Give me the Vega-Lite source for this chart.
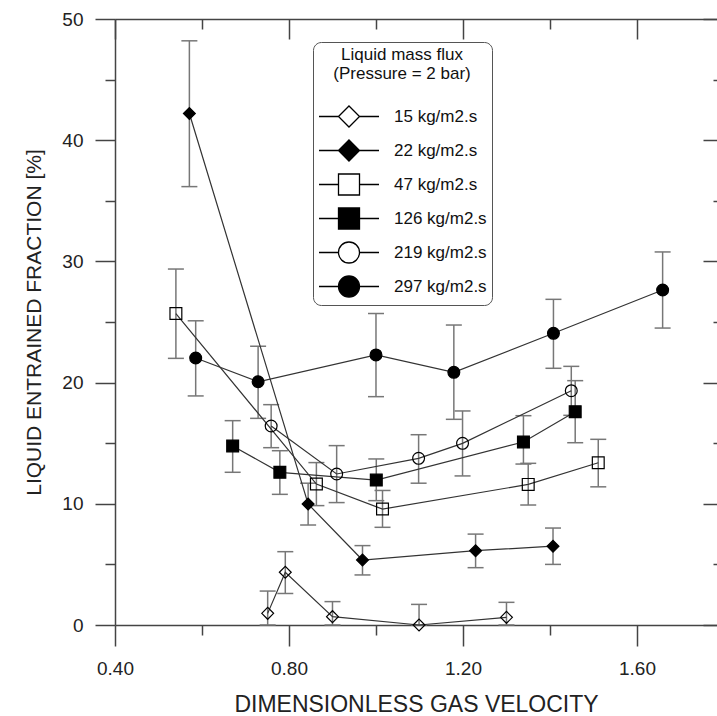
{
  "$schema": "https://vega.github.io/schema/vega-lite/v6.json",
  "autosize": {"type": "none"},
  "padding": {"left": 115, "top": 19, "right": 0, "bottom": 91},
  "width": 602,
  "height": 606,
  "background": "white",
  "config": {"view": {"stroke": null}},
  "data": {
    "values": [
      {"series": "15 kg/m2.s", "x": 0.751, "y": 0.96, "lo": 0.0, "hi": 2.8},
      {"series": "15 kg/m2.s", "x": 0.7915, "y": 4.35, "lo": 2.6, "hi": 6.05},
      {"series": "15 kg/m2.s", "x": 0.9, "y": 0.69, "lo": 0.0, "hi": 1.93},
      {"series": "15 kg/m2.s", "x": 1.099, "y": 0.0, "lo": 0.0, "hi": 1.7},
      {"series": "15 kg/m2.s", "x": 1.3, "y": 0.63, "lo": 0.0, "hi": 1.87},
      {"series": "22 kg/m2.s", "x": 0.571, "y": 42.2, "lo": 36.17, "hi": 48.2},
      {"series": "22 kg/m2.s", "x": 0.844, "y": 9.98, "lo": 8.25, "hi": 11.7},
      {"series": "22 kg/m2.s", "x": 0.969, "y": 5.36, "lo": 4.13, "hi": 6.55},
      {"series": "22 kg/m2.s", "x": 1.229, "y": 6.13, "lo": 4.73, "hi": 7.5},
      {"series": "22 kg/m2.s", "x": 1.407, "y": 6.5, "lo": 5.0, "hi": 8.0},
      {"series": "47 kg/m2.s", "x": 0.54, "y": 25.7, "lo": 22.0, "hi": 29.37},
      {"series": "47 kg/m2.s", "x": 0.863, "y": 11.63, "lo": 9.85, "hi": 13.4},
      {"series": "47 kg/m2.s", "x": 1.015, "y": 9.57, "lo": 8.06, "hi": 11.1},
      {"series": "47 kg/m2.s", "x": 1.35, "y": 11.6, "lo": 9.9, "hi": 13.34},
      {"series": "47 kg/m2.s", "x": 1.511, "y": 13.39, "lo": 11.4, "hi": 15.32},
      {"series": "126 kg/m2.s", "x": 0.6705, "y": 14.77, "lo": 12.6, "hi": 16.86},
      {"series": "126 kg/m2.s", "x": 0.779, "y": 12.6, "lo": 10.78, "hi": 14.38},
      {"series": "126 kg/m2.s", "x": 1.0007, "y": 11.96, "lo": 10.26, "hi": 13.7},
      {"series": "126 kg/m2.s", "x": 1.339, "y": 15.1, "lo": 13.28, "hi": 17.27},
      {"series": "126 kg/m2.s", "x": 1.458, "y": 17.6, "lo": 15.04, "hi": 20.16},
      {"series": "219 kg/m2.s", "x": 0.759, "y": 16.42, "lo": 14.63, "hi": 18.18},
      {"series": "219 kg/m2.s", "x": 0.9096, "y": 12.46, "lo": 10.1, "hi": 14.8},
      {"series": "219 kg/m2.s", "x": 1.098, "y": 13.75, "lo": 11.7, "hi": 15.7},
      {"series": "219 kg/m2.s", "x": 1.199, "y": 14.99, "lo": 12.3, "hi": 17.66},
      {"series": "219 kg/m2.s", "x": 1.449, "y": 19.33, "lo": 17.3, "hi": 21.34},
      {"series": "297 kg/m2.s", "x": 0.5855, "y": 22.03, "lo": 18.9, "hi": 25.1},
      {"series": "297 kg/m2.s", "x": 0.729, "y": 20.07, "lo": 17.05, "hi": 23.0},
      {"series": "297 kg/m2.s", "x": 1.0, "y": 22.28, "lo": 18.84, "hi": 25.7},
      {"series": "297 kg/m2.s", "x": 1.179, "y": 20.85, "lo": 16.97, "hi": 24.75},
      {"series": "297 kg/m2.s", "x": 1.408, "y": 24.07, "lo": 21.18, "hi": 26.87},
      {"series": "297 kg/m2.s", "x": 1.659, "y": 27.64, "lo": 24.5, "hi": 30.78}
    ]
  },
  "resolve": {
    "scale": {"shape": "independent", "fill": "independent", "stroke": "independent"},
    "axis": {"x": "independent", "y": "independent"},
    "legend": {"shape": "independent", "fill": "independent", "stroke": "independent"}
  },
  "layer": [
    {
      "mark": {"type": "rule", "color": "#777777", "strokeWidth": 1.5},
      "encoding": {
        "x": {
          "field": "x", "type": "quantitative",
          "scale": {"domain": [0.4, 1.784], "nice": false, "zero": false},
          "axis": {
            "orient": "bottom",
            "values": [0.4, 0.6, 0.8, 1.0, 1.2, 1.4, 1.6],
            "labelExpr": "round(datum.value*10) % 4 == 0 ? format(datum.value, '.2f') : ''",
            "tickSize": {"condition": {"test": "round(datum.value*10) % 4 == 0", "value": 21}, "value": 10},
            "tickColor": "#444444", "tickWidth": 1.5,
            "domainColor": "#444444", "domainWidth": 1.5,
            "grid": false,
            "labelFont": "Liberation Sans", "labelFontSize": 19, "labelColor": "#222222", "labelPadding": 13,
            "labelFlush": false, "labelOverlap": false,
            "title": "DIMENSIONLESS GAS VELOCITY",
            "titleFont": "Liberation Sans", "titleFontSize": 23, "titleFontWeight": "normal", "titleColor": "#222222", "titlePadding": 15
          }
        },
        "y": {
          "field": "lo", "type": "quantitative",
          "scale": {"domain": [0, 50], "nice": false, "zero": false},
          "axis": {
            "orient": "left",
            "values": [0, 5, 10, 15, 20, 25, 30, 35, 40, 45, 50],
            "labelExpr": "datum.value % 10 == 0 ? datum.label : ''",
            "tickSize": {"condition": {"test": "datum.value % 10 == 0", "value": 20}, "value": 10},
            "tickColor": "#444444", "tickWidth": 1.5,
            "domainColor": "#444444", "domainWidth": 1.5,
            "grid": false,
            "labelFont": "Liberation Sans", "labelFontSize": 19, "labelColor": "#222222", "labelPadding": 12,
            "labelFlush": false, "labelOverlap": false,
            "title": "LIQUID ENTRAINED FRACTION [%]",
            "titleFont": "Liberation Sans", "titleFontSize": 21, "titleFontWeight": "normal", "titleColor": "#222222", "titlePadding": 17
          }
        },
        "y2": {"field": "hi"}
      }
    },
    {
      "mark": {"type": "tick", "orient": "horizontal", "size": 16, "thickness": 1.5, "color": "#777777", "opacity": 1},
      "encoding": {
        "x": {"field": "x", "type": "quantitative", "axis": null},
        "y": {"field": "lo", "type": "quantitative", "axis": null}
      }
    },
    {
      "mark": {"type": "tick", "orient": "horizontal", "size": 16, "thickness": 1.5, "color": "#777777", "opacity": 1},
      "encoding": {
        "x": {"field": "x", "type": "quantitative", "axis": null},
        "y": {"field": "hi", "type": "quantitative", "axis": null}
      }
    },
    {
      "mark": {"type": "line", "color": "#333333", "strokeWidth": 1.2},
      "encoding": {
        "x": {
          "field": "x", "type": "quantitative",
          "axis": {
            "orient": "top",
            "values": [0.4, 0.6, 0.8, 1.0, 1.2, 1.4, 1.6],
            "labels": false,
            "tickSize": {"condition": {"test": "round(datum.value*10) % 4 == 0", "value": -20}, "value": -10},
            "tickColor": "#444444", "tickWidth": 1.5,
            "domainColor": "#444444", "domainWidth": 1.5,
            "grid": false, "title": null
          }
        },
        "y": {
          "field": "y", "type": "quantitative",
          "axis": {
            "orient": "right",
            "values": [0, 5, 10, 15, 20, 25, 30, 35, 40, 45, 50],
            "labels": false,
            "tickSize": {"condition": {"test": "datum.value % 10 == 0", "value": -14}, "value": -4},
            "tickColor": "#444444", "tickWidth": 1.5,
            "domain": false,
            "grid": false, "title": null
          }
        },
        "detail": {"field": "series", "type": "nominal"},
        "order": {"field": "x", "type": "quantitative"}
      }
    },
    {
      "mark": {"type": "point", "stroke": "black", "strokeWidth": 1.2, "size": 140, "opacity": 1},
      "encoding": {
        "x": {"field": "x", "type": "quantitative", "axis": null},
        "y": {"field": "y", "type": "quantitative", "axis": null},
        "shape": {
          "field": "series", "type": "nominal",
          "scale": {
            "domain": ["15 kg/m2.s", "22 kg/m2.s", "47 kg/m2.s", "126 kg/m2.s", "219 kg/m2.s", "297 kg/m2.s"],
            "range": ["diamond", "diamond", "square", "square", "circle", "circle"]
          },
          "legend": null
        },
        "fill": {
          "field": "series", "type": "nominal",
          "scale": {
            "domain": ["15 kg/m2.s", "22 kg/m2.s", "47 kg/m2.s", "126 kg/m2.s", "219 kg/m2.s", "297 kg/m2.s"],
            "range": ["transparent", "black", "transparent", "black", "transparent", "black"]
          },
          "legend": null
        }
      }
    },
    {
      "transform": [{"filter": "false"}],
      "mark": {"type": "point", "strokeWidth": 1.3, "opacity": 1},
      "encoding": {
        "x": {"field": "x", "type": "quantitative", "axis": null},
        "y": {"field": "y", "type": "quantitative", "axis": null},
        "shape": {
          "field": "series", "type": "nominal",
          "scale": {
            "domain": ["15 kg/m2.s", "22 kg/m2.s", "47 kg/m2.s", "126 kg/m2.s", "219 kg/m2.s", "297 kg/m2.s"],
            "range": [
              "M-1,0H0.857M2.857,0H4.714M0.857,0L1.857,-1L2.857,0L1.857,1Z",
              "M-1,0H0.857M2.857,0H4.714M0.857,0L1.857,-1L2.857,0L1.857,1Z",
              "M-1,0H0.857M2.857,0H4.714M0.857,-1H2.857V1H0.857Z",
              "M-1,0H0.857M2.857,0H4.714M0.857,-1H2.857V1H0.857Z",
              "M-1,0H0.857M2.857,0H4.714M0.857,0A1,1 0 1,1 2.857,0A1,1 0 1,1 0.857,0Z",
              "M-1,0H0.857M2.857,0H4.714M0.857,0A1,1 0 1,1 2.857,0A1,1 0 1,1 0.857,0Z"
            ]
          },
          "legend": {
            "title": ["Liquid mass flux", "(Pressure = 2 bar)"],
            "orient": "none", "legendX": 198, "legendY": 23,
            "padding": 5, "strokeColor": "#555555", "fillColor": "white", "cornerRadius": 8,
            "titleFont": "Liberation Sans", "titleFontSize": 17, "titleFontWeight": "normal", "titleColor": "#111111",
            "titleAnchor": "middle", "titleAlign": "center", "titleLineHeight": 19, "titlePadding": 22,
            "labelFont": "Liberation Sans", "labelFontSize": 17, "labelColor": "#111111", "labelOffset": 53, "labelLimit": 300,
            "symbolSize": 441, "symbolStrokeWidth": 1.3, "symbolStrokeColor": "black", "symbolOpacity": 1, "rowPadding": 7
          }
        },
        "fill": {
          "field": "series", "type": "nominal",
          "scale": {
            "domain": ["15 kg/m2.s", "22 kg/m2.s", "47 kg/m2.s", "126 kg/m2.s", "219 kg/m2.s", "297 kg/m2.s"],
            "range": ["transparent", "black", "transparent", "black", "transparent", "black"]
          }
        },
        "stroke": {
          "field": "series", "type": "nominal",
          "scale": {
            "domain": ["15 kg/m2.s", "22 kg/m2.s", "47 kg/m2.s", "126 kg/m2.s", "219 kg/m2.s", "297 kg/m2.s"],
            "range": ["black", "black", "black", "black", "black", "black"]
          }
        }
      }
    }
  ]
}
